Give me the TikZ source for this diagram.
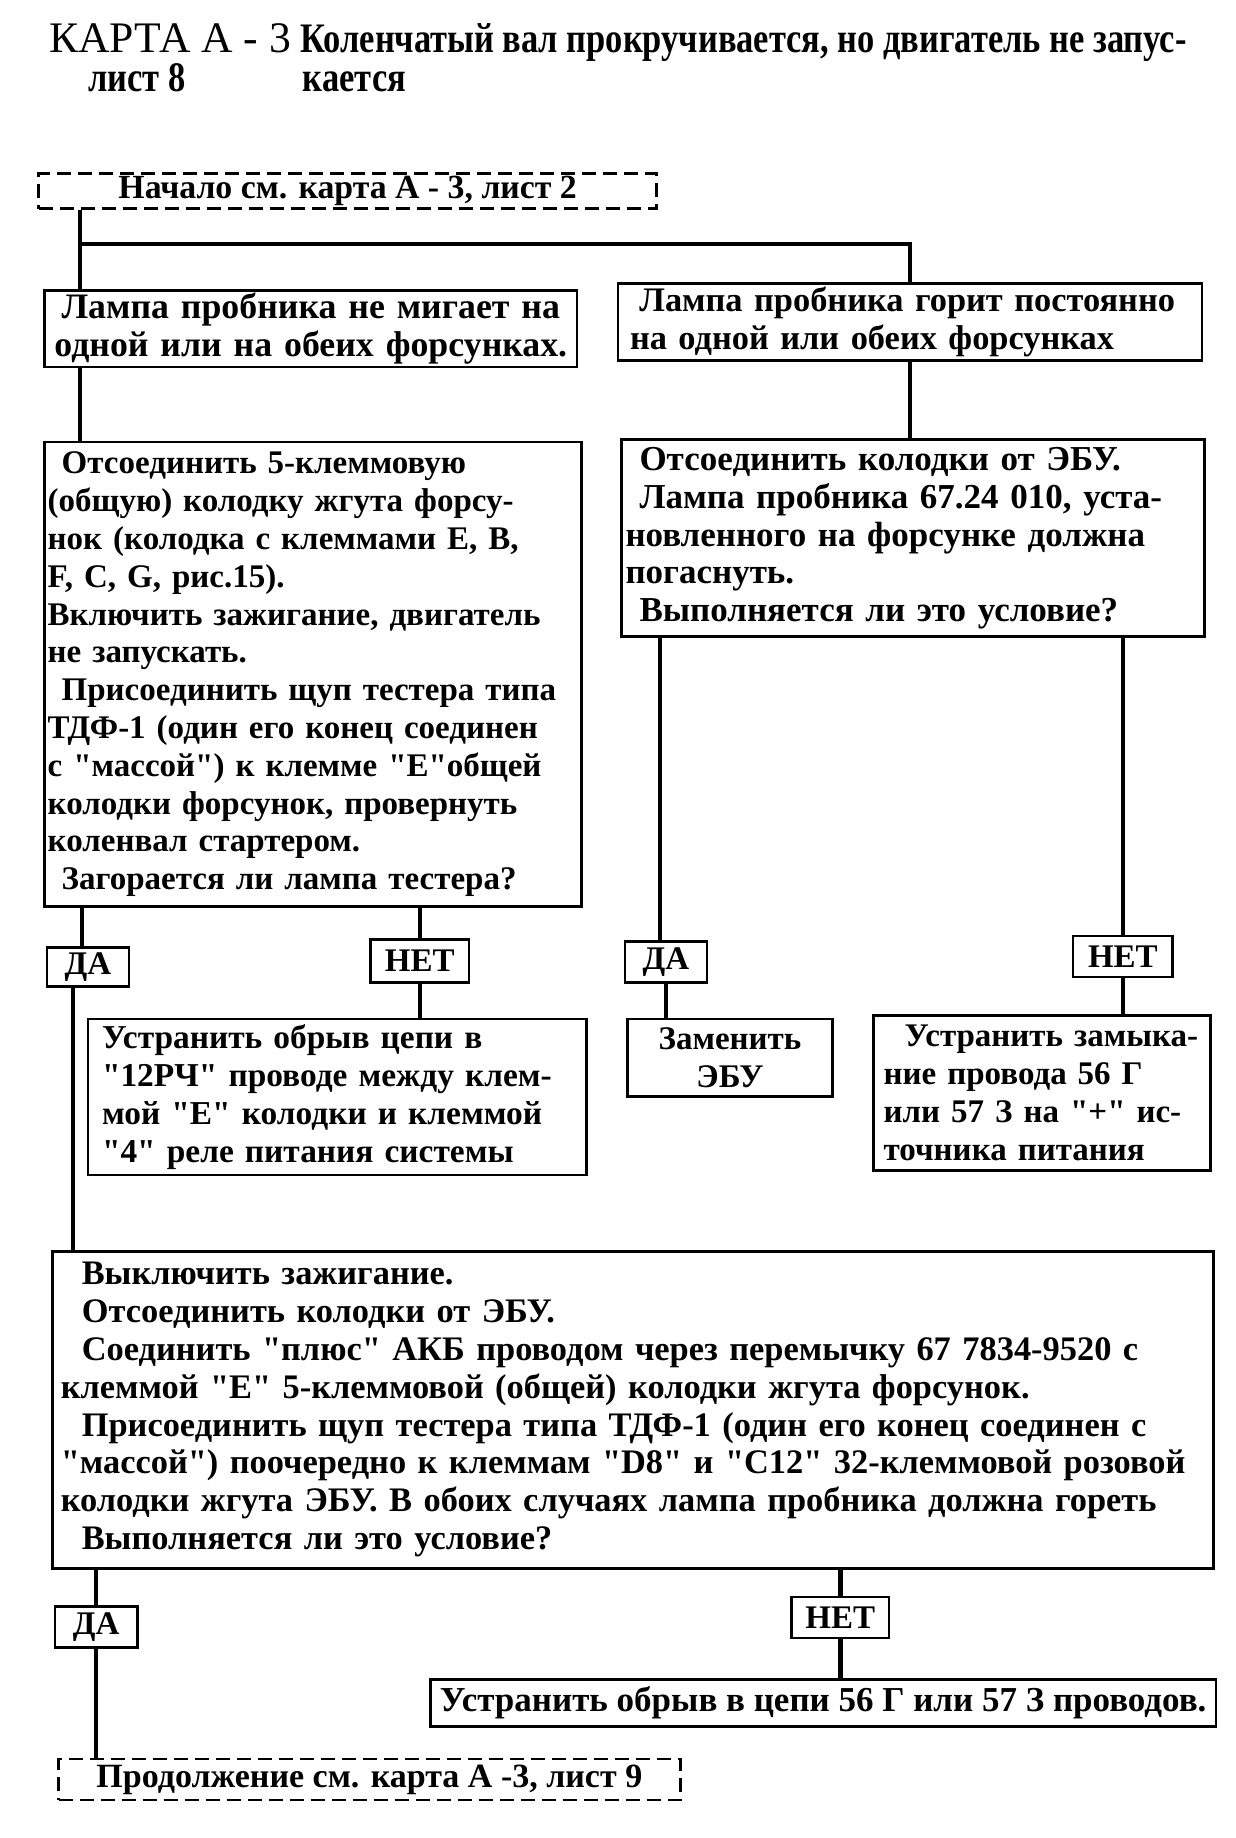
\documentclass[tikz,border=0pt]{standalone}
\usepackage{fontspec}
\setmainfont{Liberation Serif}
\newfontfamily\myserif{Liberation Serif}
\newfontfamily\mytitlecf[FakeStretch=0.82]{Liberation Serif}
\newcommand\mybody{\myserif\bfseries\fontsize{16.5}{18.9}\selectfont}
\newcommand\mysized[1]{\myserif\bfseries\fontsize{#1}{18.9}\selectfont}
\newcommand\mytitle{\myserif\fontsize{21.8}{24}\selectfont}
\newcommand\mytitlec{\mytitlecf\bfseries\fontsize{21}{24}\selectfont}
\tikzset{
  conn/.style={line width=2.2pt},
  box/.style={draw, line width=1.4pt, inner ysep=0pt, align=left, font=\mybody},
  tag/.style={draw, line width=1.4pt, inner sep=0pt, align=center, font=\mybody},
  dashbox/.style={draw, line width=1.4pt, inner sep=0pt, align=center, dash pattern=on 7pt off 3.5pt},
  ttl/.style={anchor=base west, inner sep=0pt}
}
\begin{document}
\begin{tikzpicture}[x=0.5pt,y=-0.5pt]
\useasboundingbox (0,0) rectangle (1236,1838);
% title
\node[ttl, font=\mytitle] (t1) at (49,52.8) {КАРТА А - 3};
\node[ttl, font=\mytitlec] (t2) at (300,52.8) {Коленчатый вал прокручивается, но двигатель не запус-};
\node[ttl, font=\mytitlec] (t3) at (88,91.5) {лист 8};
\node[ttl, font=\mytitlec] (t4) at (302.5,91.5) {кается};
% boxes
\node[dashbox, font=\mysized{16.9}, minimum width=309pt, minimum height=17.5pt] (start) at (347.7,191.2) {Начало см. карта А - 3, лист 2};
\node[box, align=center, font=\mysized{17.9}, inner xsep=2pt, text width=262.2pt, minimum height=38.1pt] (box1) at (310.8,328.9)
 {Лампа пробника не мигает на\\одной или на обеих форсунках.};
\node[box, font=\mysized{17.2}, inner xsep=6pt, text width=280pt, minimum height=38.75pt] (box2) at (910,322)
 {\hspace*{4.7pt}Лампа пробника горит постоянно\\на одной или обеих форсунках};
\node[box, inner xsep=1.5pt, text width=265.5pt, minimum height=232.3pt] (box3) at (313.2,674.3)
 {\hspace*{7pt}Отсоединить 5-клеммовую\\
 (общую) колодку жгута форсу-\\
 нок (колодка с клеммами Е, В,\\
 F, C, G, рис.15).\\
 Включить зажигание, двигатель\\
 не запускать.\\
 \hspace*{7pt}Присоединить щуп тестера типа\\
 ТДФ-1 (один его конец соединен\\
 с "массой") к клемме "Е"общей\\
 колодки форсунок, провернуть\\
 коленвал стартером.\\
 \hspace*{7pt}Загорается ли лампа тестера?};
\node[box, font=\mysized{17.5}, inner xsep=2pt, text width=287.5pt, minimum height=98.5pt] (box4) at (913,538.3)
 {\hspace*{7pt}Отсоединить колодки от ЭБУ.\\
 \hspace*{7pt}Лампа пробника 67.24 010, уста-\\
 новленного на форсунке должна\\
 погаснуть.\\
 \hspace*{7pt}Выполняется ли это условие?};
\node[tag, minimum width=41pt, minimum height=19.4pt] (da1) at (88,966.9) {ДА};
\node[tag, minimum width=49.2pt, minimum height=21.7pt] (net1) at (419.8,961) {НЕТ};
\node[box, font=\mysized{16.7}, inner xsep=7pt, text width=235.2pt, minimum height=78pt] (box5) at (337.2,1097)
 {Устранить обрыв цепи в\\
 "12РЧ" проводе между клем-\\
 мой "Е" колодки и клеммой\\
 "4" реле питания системы};
\node[tag, minimum width=41pt, minimum height=20.5pt] (da2) at (666,962.2) {ДА};
\node[box, align=center, inner xsep=2pt, text width=98.6pt, minimum height=38.75pt] (zam) at (730,1057.8) {Заменить\\ЭБУ};
\node[tag, minimum width=49.9pt, minimum height=20.5pt] (net2) at (1122.9,956.4) {НЕТ};
\node[box, inner xsep=5pt, text width=158.3pt, minimum height=77.4pt] (box8) at (1042,1093)
 {\hspace*{10.5pt}Устранить~замыка-\\
 ние провода 56 Г\\
 или 57 З на "+" ис-\\
 точника питания};
\node[box, font=\mysized{17.2}, inner xsep=4pt, text width=572.5pt, minimum height=158.4pt] (box6) at (633.3,1409.7)
 {\hspace*{10.5pt}Выключить зажигание.\\
 \hspace*{10.5pt}Отсоединить колодки от ЭБУ.\\
 \hspace*{10.5pt}Соединить "плюс" АКБ проводом через перемычку 67 7834-9520 с\\
 клеммой "Е" 5-клеммовой (общей) колодки жгута форсунок.\\
 \hspace*{10.5pt}Присоединить щуп тестера типа ТДФ-1 (один его конец соединен с\\
 "массой") поочередно к клеммам "D8" и "С12" 32-клеммовой~розовой\\
 колодки жгута ЭБУ. В обоих случаях лампа пробника должна гореть\\
 \hspace*{10.5pt}Выполняется ли это условие?};
\node[tag, minimum width=41.1pt, minimum height=20.5pt] (da3) at (96.1,1627.1) {ДА};
\node[tag, minimum width=48.7pt, minimum height=20.5pt] (net3) at (840.3,1617.5) {НЕТ};
\node[tag, font=\mysized{17.5}, minimum width=392.8pt, minimum height=23.5pt] (box7) at (823.2,1702.8)
 {Устранить обрыв в цепи 56 Г или 57 З проводов.};
\node[dashbox, font=\mysized{17}, minimum width=310.8pt, minimum height=20.5pt] (end) at (369.4,1779.5)
 {Продолжение см. карта А -3, лист 9};
% connectors
\coordinate (j1) at (79.7,243.9);
\draw[conn] (start.south -| j1) -- (box1.north -| j1);
\draw[conn] (j1) -| (box2.north);
\draw[conn] (box1.south -| j1) -- (box3.north -| j1);
\draw[conn] (box2.south) -- (box2.south |- box4.north);
\coordinate (d1a) at ([xshift=-3pt]da1.north);
\coordinate (d1b) at ([xshift=-7.5pt]da1.south);
\draw[conn] (d1a) -- (d1a |- box3.south);
\draw[conn] (d1b) -- (d1b |- box6.north);
\draw[conn] (net1.north) -- (net1.north |- box3.south);
\draw[conn] (net1.south) -- (net1.south |- box5.north);
\coordinate (d2a) at ([xshift=-3pt]da2.north);
\draw[conn] (d2a) -- (d2a |- box4.south);
\draw[conn] (da2.south) -- (da2.south |- zam.north);
\draw[conn] (net2.north) -- (net2.north |- box4.south);
\draw[conn] (net2.south) -- (net2.south |- box8.north);
\draw[conn] (da3.north) -- (da3.north |- box6.south);
\draw[conn] (da3.south) -- (da3.south |- end.north);
\draw[conn] (net3.north) -- (net3.north |- box6.south);
\draw[conn] (net3.south) -- (net3.south |- box7.north);
\end{tikzpicture}
\end{document}
